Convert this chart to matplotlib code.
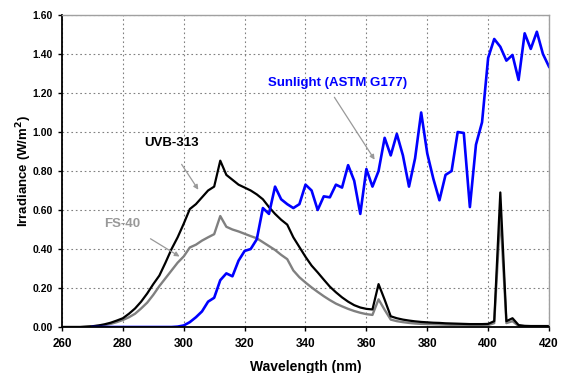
import numpy as np
import matplotlib
matplotlib.use('Agg')
import matplotlib.pyplot as plt

plt.rcParams['font.family'] = ['Liberation Sans', 'DejaVu Sans']
plt.rcParams['font.weight'] = 'bold'

# Sunlight (ASTM G177), 2 nm steps from 270 to 420
sun_wl = np.arange(270, 422, 2)
sun = [0, 0, 0, 0, 0, 0, 0, 0, 0, 0, 0, 0, 0, 0, 0.002, 0.008,
       0.025, 0.05, 0.08, 0.13, 0.15, 0.24, 0.275, 0.26, 0.34, 0.39,
       0.40, 0.45, 0.61, 0.58, 0.72, 0.655, 0.63, 0.61, 0.63, 0.73,
       0.70, 0.60, 0.67, 0.665, 0.73, 0.715, 0.83, 0.75, 0.58, 0.81,
       0.72, 0.80, 0.97, 0.88, 0.99, 0.88, 0.72, 0.865, 1.10, 0.89,
       0.76, 0.65, 0.78, 0.80, 1.00, 0.995, 0.615, 0.935, 1.05, 1.38,
       1.477, 1.437, 1.366, 1.395, 1.267, 1.506, 1.426, 1.514, 1.40, 1.335]

# Lamps, 2 nm steps from 260 to 420
lamp_wl = np.arange(260, 422, 2)
uvb313 = [0, 0, 0, 0, 0.002, 0.004, 0.008, 0.014, 0.022, 0.033,
          0.045, 0.068, 0.095, 0.13, 0.172, 0.22, 0.264, 0.33, 0.40, 0.46,
          0.53, 0.605, 0.63, 0.665, 0.70, 0.72, 0.853, 0.78, 0.755, 0.73,
          0.715, 0.70, 0.68, 0.655, 0.615, 0.58, 0.55, 0.525, 0.46, 0.41,
          0.36, 0.315, 0.28, 0.243, 0.207, 0.178, 0.152, 0.13, 0.112, 0.10,
          0.093, 0.09, 0.22, 0.14, 0.055, 0.045, 0.038, 0.033, 0.029, 0.026,
          0.024, 0.022, 0.021, 0.019, 0.018, 0.017, 0.016, 0.015, 0.015, 0.015,
          0.016, 0.03, 0.69, 0.03, 0.045, 0.01, 0.006, 0.005, 0.005, 0.005, 0.005]
fs40 = [0, 0, 0, 0, 0.001, 0.003, 0.006, 0.01, 0.016, 0.025,
        0.036, 0.05, 0.068, 0.095, 0.125, 0.165, 0.21, 0.25, 0.29, 0.33,
        0.362, 0.408, 0.422, 0.443, 0.46, 0.476, 0.569, 0.514, 0.50, 0.49,
        0.478, 0.466, 0.455, 0.435, 0.415, 0.395, 0.37, 0.348, 0.29, 0.255,
        0.228, 0.203, 0.18, 0.158, 0.138, 0.12, 0.106, 0.093, 0.082, 0.073,
        0.066, 0.062, 0.142, 0.088, 0.038, 0.03, 0.025, 0.021, 0.018, 0.016,
        0.015, 0.014, 0.013, 0.012, 0.011, 0.011, 0.01, 0.01, 0.01, 0.01,
        0.01, 0.02, 0.58, 0.02, 0.03, 0.005, 0.003, 0.003, 0.003, 0.003, 0.003]

fig = plt.figure(figsize=(5.66, 3.73), dpi=100)
ax = fig.add_axes([0.1095, 0.1233, 0.8605, 0.8365])

ax.plot(lamp_wl, fs40, color='#808080', lw=1.7)
ax.plot(lamp_wl, uvb313, color='black', lw=1.6)
ax.plot(sun_wl, sun, color='#0000ff', lw=1.9)

ax.set_xlim(260, 420)
ax.set_ylim(0, 1.6)
ax.set_xticks(np.arange(260, 421, 20))
ax.set_yticks(np.arange(0, 1.61, 0.2))
ax.set_yticklabels(['%.2f' % v for v in np.arange(0, 1.61, 0.2)])
ax.grid(True, color='#808080', ls=(0, (1.5, 2.5)), lw=0.8)
ax.tick_params(axis='x', labelsize=8.5, length=3, width=1, direction='out', pad=5)
ax.tick_params(axis='y', labelsize=7.5, length=3, width=1, direction='out')

for s in ['left', 'bottom']:
    ax.spines[s].set_linewidth(1.3)
for s in ['top', 'right']:
    ax.spines[s].set_color('#a0a0a0')
    ax.spines[s].set_linewidth(1)

ax.set_xlabel('Wavelength (nm)', fontsize=10, fontweight='bold', labelpad=7)
ax.set_ylabel('Irradiance (W/m$^\\mathbf{2}$)', fontsize=9.5, fontweight='bold', labelpad=-1)

arrow = dict(arrowstyle='-|>', color='#999999', lw=0.9, mutation_scale=7)
ax.annotate('', xy=(363.2, 0.846), xytext=(349.0, 1.19), arrowprops=arrow)
ax.annotate('', xy=(305.3, 0.692), xytext=(298.8, 0.846), arrowprops=arrow)
ax.annotate('', xy=(299.4, 0.354), xytext=(288.3, 0.46), arrowprops=arrow)

ax.text(327.7, 1.251, 'Sunlight (ASTM G177)', color='#0000ff', fontsize=9.5,
        fontweight='bold', va='center', ha='left')
ax.text(286.9, 0.944, 'UVB-313', color='black', fontsize=9.5,
        fontweight='bold', va='center', ha='left')
ax.text(273.8, 0.528, 'FS-40', color='#999999', fontsize=9.5,
        fontweight='bold', va='center', ha='left')

fig.savefig('out.png', dpi=100)
